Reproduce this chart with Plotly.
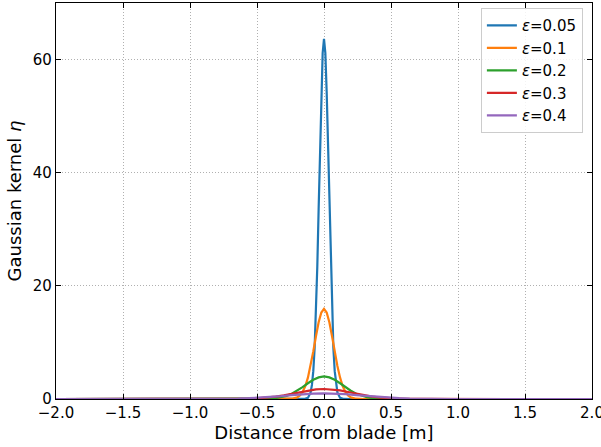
import plotly.graph_objects as go

# Epsilon values and legend labels
eps_labels = ["<i>ε</i>=0.05", "<i>ε</i>=0.1", "<i>ε</i>=0.2", "<i>ε</i>=0.3", "<i>ε</i>=0.4"]
colors = ["#1f77b4", "#ff7f0e", "#2ca02c", "#d62728", "#9467bd"]

# Half-profiles (distance >= 0); curves are symmetric about 0
r_005 = [0.0, 0.01, 0.02, 0.03, 0.04, 0.05, 0.06, 0.07, 0.08, 0.09, 0.10, 0.12, 0.15, 0.2, 2.0]
y_005 = [63.66, 61.16, 54.25, 44.41, 33.57, 23.42, 15.08, 8.97, 4.92, 2.49, 1.17, 0.20, 0.01, 0.0, 0.0]

r_01 = [0.0, 0.02, 0.04, 0.06, 0.08, 0.10, 0.12, 0.14, 0.16, 0.18, 0.20, 0.24, 0.30, 2.0]
y_01 = [15.92, 15.29, 13.56, 11.10, 8.39, 5.85, 3.77, 2.24, 1.23, 0.62, 0.29, 0.05, 0.0, 0.0]

r_02 = [0.0, 0.04, 0.08, 0.12, 0.16, 0.20, 0.24, 0.28, 0.32, 0.36, 0.40, 0.48, 0.60, 2.0]
y_02 = [3.98, 3.82, 3.39, 2.78, 2.10, 1.46, 0.94, 0.56, 0.31, 0.16, 0.07, 0.013, 0.0, 0.0]

r_03 = [0.0, 0.06, 0.12, 0.18, 0.24, 0.30, 0.36, 0.42, 0.48, 0.54, 0.60, 0.72, 0.90, 2.0]
y_03 = [1.77, 1.70, 1.51, 1.23, 0.93, 0.65, 0.42, 0.25, 0.14, 0.069, 0.032, 0.006, 0.0, 0.0]

r_04 = [0.0, 0.08, 0.16, 0.24, 0.32, 0.40, 0.48, 0.56, 0.64, 0.72, 0.80, 0.96, 1.20, 2.0]
y_04 = [0.99, 0.96, 0.85, 0.69, 0.52, 0.37, 0.24, 0.14, 0.077, 0.039, 0.018, 0.003, 0.0, 0.0]

x_ticks = [-2.0, -1.5, -1.0, -0.5, 0.0, 0.5, 1.0, 1.5, 2.0]
x_ticklabels = ["−2.0", "−1.5", "−1.0", "−0.5", "0.0", "0.5", "1.0", "1.5", "2.0"]
y_ticks = [0, 20, 40, 60]

profiles = [(r_005, y_005), (r_01, y_01), (r_02, y_02), (r_03, y_03), (r_04, y_04)]

fig = go.Figure()
for (r, y), name, c in zip(profiles, eps_labels, colors):
    xs = [-v for v in r[::-1]] + r[1:]
    ys = y[::-1] + y[1:]
    fig.add_trace(go.Scatter(x=xs, y=ys, mode="lines", name=name,
                             line=dict(color=c, width=2.2)))

font_family = "DejaVu Sans"
axis_common = dict(
    showline=True, linecolor="black", linewidth=1.2, mirror="ticks",
    ticks="inside", ticklen=5, tickcolor="black", tickwidth=1,
    showgrid=True, gridcolor="#b0b0b0", griddash="1px,2px", gridwidth=1,
    zeroline=False, automargin=False, ticklabeloverflow="allow",
    tickfont=dict(family=font_family, size=15, color="black"),
)

fig.update_layout(
    width=601, height=447,
    margin=dict(l=56, r=9, t=3, b=48),
    paper_bgcolor="white", plot_bgcolor="white",
    font=dict(family=font_family, color="black"),
    xaxis=dict(range=[-2, 2], tickvals=x_ticks, ticktext=x_ticklabels,
               title=dict(text="Distance from blade [m]", font=dict(size=18), standoff=0),
               **axis_common),
    yaxis=dict(range=[0, 70], tickvals=y_ticks,
               title=dict(text="Gaussian kernel <i>η</i>", font=dict(size=18), standoff=6),
               **axis_common),
    legend=dict(x=0.983, y=0.987, xanchor="right", yanchor="top",
                bgcolor="rgba(255,255,255,0.85)", bordercolor="#cccccc", borderwidth=1,
                font=dict(family=font_family, size=15), tracegroupgap=0, itemwidth=30),
    showlegend=True,
)

fig.write_html("out.html", config={"displayModeBar": False},
               post_script="document.body.style.margin='0';document.body.style.overflow='hidden';")
